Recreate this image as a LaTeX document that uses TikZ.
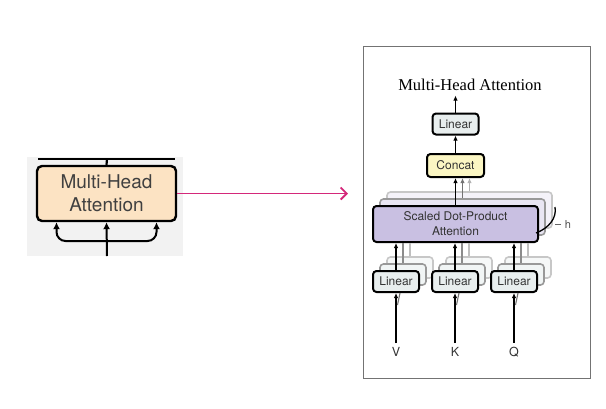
\documentclass[tikz,border=0pt]{standalone}
\usepackage{fontspec}
\setmainfont{Liberation Serif}
\setsansfont{TeX Gyre Heros}
\usetikzlibrary{arrows.meta,positioning,calc}
\definecolor{peach}{HTML}{FCE3C3}
\definecolor{lavender}{HTML}{C9C0E2}
\definecolor{lingray}{HTML}{E8EEEE}
\definecolor{concatyel}{HTML}{FBF6C3}
\definecolor{magentaarr}{HTML}{D4287A}
\definecolor{panelgray}{HTML}{F2F2F2}

\begin{document}
\begin{tikzpicture}[x=1pt,y=-1pt,font=\sffamily,>=Latex,
  blk/.style={draw,line width=2pt,rounded corners=3.5pt,text=black!80,align=center,inner sep=0pt},
  lin/.style={blk,fill=lingray,minimum width=46pt,minimum height=21pt,font=\sffamily\fontsize{12}{14}\selectfont},
  ghostb/.style={draw=black!40,fill=white,line width=1.6pt},
  ghostc/.style={draw=black!22,fill=white,line width=1.6pt},
  sdp/.style={blk,fill=lavender,minimum width=165pt,minimum height=36pt,font=\sffamily\fontsize{12}{15}\selectfont},
  inlab/.style={font=\sffamily\fontsize{12.5}{14}\selectfont,text=black!80,inner sep=4pt},
  arr/.style={-{Latex[length=5pt,width=4.5pt]},line width=1.6pt},
  bigarr/.style={-{Latex[length=7pt,width=7pt]},line width=2pt}]
\useasboundingbox (0,0) rectangle (606,408);

% left: block taken from the encoder
\fill[panelgray] (27,157) rectangle (183,256);
\node[blk,fill=peach,line width=2.4pt,rounded corners=5pt,minimum width=139pt,minimum height=55pt,
  text=black!75,font=\sffamily\fontsize{19}{23}\selectfont] (mhaL) at (106.5,193.5) {Multi-Head\\Attention};
\coordinate (topL) at (107,159);
\coordinate (forkL) at (107,241);
\coordinate (stemL) at (107,256);
\draw[line width=2.2pt] (38,159) -- (175,159);
\draw[line width=2.2pt] (mhaL.north) -- (topL);
\draw[bigarr] (stemL) -- (mhaL.south);
\draw[bigarr,rounded corners=9pt] (forkL) -| ([xshift=-50pt]mhaL.south);
\draw[bigarr,rounded corners=9pt] (forkL) -| ([xshift=50pt]mhaL.south);

% zoom arrow
\coordinate (tip) at (348,193.5);
\draw[magentaarr,line width=1.8pt,-{Straight Barb[length=6pt,width=12pt]}] (mhaL.east) -- (tip);

% right: the expanded view
\draw[black!55,line width=0.9pt] (363,46) rectangle (590,378);
\node[font=\fontsize{16.5}{18}\selectfont,inner sep=4.5pt] (title) at (470,85) {Multi-Head Attention};
\node[lin] (linTop) at (455.5,124) {Linear};
\node[blk,fill=concatyel,minimum width=57pt,minimum height=23pt,font=\sffamily\fontsize{12}{14}\selectfont] (concat) at (455.5,165.5) {Concat};

% stacked heads
\node[sdp,ghostc,fill=lavender!20] (sdpa3) at (469.5,210) {};
\node[sdp,ghostb,fill=lavender!40] (sdpa2) at (462.5,217) {};
\node[sdp] (sdpa) at (455.5,224) {Scaled Dot-Product\\Attention};

\foreach \x/\inp [count=\i] in {396/V,455/K,514/Q}{
  \node[lin,ghostc,fill=lingray!40] (lin\i c) at (\x+14,267.5) {};
  \node[lin,ghostb,fill=lingray!60] (lin\i b) at (\x+7,274.5) {};
  \node[lin] (lin\i) at (\x,281.5) {Linear};
  \node[inlab] (in\i) at (\x,352) {\inp};
}

\foreach \i in {1,2,3}{
  \draw[black!25,line width=1.4pt] (lin\i c.north) -- (lin\i c.north |- sdpa.south);
  \draw[black!45,line width=1.4pt] (lin\i b.north) -- (lin\i b.north |- sdpa.south);
  \draw[arr] (lin\i.north) -- (lin\i.north |- sdpa.south);
  \draw[black!55,line width=1.1pt] ($(lin\i.south)+(1.5,12)$) -- ($(lin\i.south)+(4,0)$);
  \draw[arr] (in\i.north) -- (lin\i.south);
}

\draw[arr,black!30] (sdpa3.north) -- (sdpa3.north |- concat.south);
\draw[arr,black!55] (sdpa2.north) -- (sdpa2.north |- concat.south);
\draw[arr] (sdpa.north) -- (concat.south);
\draw[arr] (concat.north) -- (linTop.south);
\draw[arr] (linTop.north) -- (linTop.north |- title.south);

% number of heads
\draw[line width=1.3pt] (555,207) .. controls (557,218) and (549,228) .. (536,233);
\node[font=\sffamily\fontsize{11}{13}\selectfont,text=black!70] (hlab) at (568,224) {h};
\draw[black!60,line width=0.9pt] (hlab.west) -- ++(-6,0);
\end{tikzpicture}
\end{document}
